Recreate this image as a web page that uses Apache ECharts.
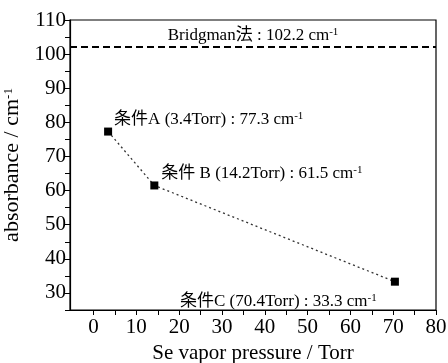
<!DOCTYPE html>
<html lang="ja">
<head>
    <meta charset="utf-8"/>
    <title>absorbance vs Se vapor pressure</title>
    <script src="https://cdn.jsdelivr.net/npm/echarts@6/dist/echarts.min.js"></script>
    <style>
        html, body { margin: 0; padding: 0; background: #fff; }
        #chart { width: 448px; height: 363px; }
    </style>
</head>
<body>
<div id="chart"></div>
<script type="text/javascript">
    // data
    var conditions = ['条件A', '条件 B', '条件C'];
    var pressure = [3.4, 14.2, 70.4];          // Torr
    var absorbance = [77.3, 61.5, 33.3];       // cm-1
    var bridgman = 102.2;                      // cm-1
    var xTicks = [0, 10, 20, 30, 40, 50, 60, 70, 80];
    var yTicks = [30, 40, 50, 60, 70, 80, 90, 100, 110];

    var serif = "'Liberation Serif', 'Times New Roman', 'Noto Sans CJK JP', serif";
    var supRich = {
        t: { fontFamily: serif, fontSize: 17, color: '#000' },
        s: { fontFamily: serif, fontSize: 11, color: '#000', verticalAlign: 'top', padding: [0, 0, 7, 0] }
    };

    // label offsets next to each point
    var labelOffsets = [[-3, -12], [-2, -12], [-224, 20]];

    var points = pressure.map(function (p, i) {
        return {
            value: [p, absorbance[i]],
            label: {
                show: true,
                position: 'right',
                offset: labelOffsets[i],
                formatter: '{t|' + conditions[i] + ' (' + p + 'Torr) : ' + absorbance[i] + ' cm}{s|-1}',
                rich: supRich
            }
        };
    });

    var chart = echarts.init(document.getElementById('chart'));

    var axisCommon = {
        axisLine: { show: true, onZero: false, lineStyle: { color: '#000', width: 1.2 } },
        axisTick: { show: true, inside: false, length: 5, lineStyle: { color: '#000' } },
        splitLine: { show: false },
        axisLabel: { color: '#000', fontFamily: serif, fontSize: 21 },
        nameTextStyle: { color: '#000', fontFamily: serif, fontSize: 21 }
    };

    var option = {
        animation: false,
        backgroundColor: '#fff',
        grid: {
            left: 70, right: 12, top: 20, bottom: 53,
            containLabel: false,
            outerBoundsMode: 'none',
            show: true, borderColor: '#000', borderWidth: 1.2
        },
        xAxis: Object.assign({}, axisCommon, {
            type: 'value',
            min: -5.5, max: 80,
            interval: 10,
            name: 'Se vapor pressure / Torr',
            nameLocation: 'middle',
            nameGap: 33,
            axisLabel: Object.assign({}, axisCommon.axisLabel, {
                margin: 7,
                customValues: xTicks
            }),
            axisTick: Object.assign({}, axisCommon.axisTick, {
                customValues: xTicks.concat([5, 15, 25, 35, 45, 55, 65, 75])
            }),
            minorTick: { show: false }
        }),
        yAxis: Object.assign({}, axisCommon, {
            type: 'value',
            min: 25, max: 110,
            interval: 5,
            name: 'absorbance / cm{s|-1}',
            nameLocation: 'middle',
            nameGap: 44,
            nameTextStyle: {
                color: '#000', fontFamily: serif, fontSize: 22,
                rich: {
                    s: { fontFamily: serif, fontSize: 13, color: '#000', verticalAlign: 'top', padding: [0, 0, 9, 0] }
                }
            },
            axisLabel: Object.assign({}, axisCommon.axisLabel, {
                margin: 4,
                customValues: yTicks
            }),
            minorTick: { show: false }
        }),
        series: [
            {
                type: 'line',
                data: points,
                symbol: 'rect',
                symbolSize: 8,
                itemStyle: { color: '#000' },
                lineStyle: { color: '#333', width: 1.3, type: [2, 3] },
                markLine: {
                    silent: true,
                    symbol: ['none', 'none'],
                    lineStyle: { color: '#000', width: 2, type: [7, 4] },
                    label: {
                        show: true,
                        position: 'insideMiddleTop',
                        distance: 2,
                        formatter: '{t|Bridgman法 : ' + bridgman + ' cm}{s|-1}',
                        rich: supRich
                    },
                    data: [{ yAxis: bridgman }]
                }
            }
        ]
    };

    chart.setOption(option);
</script>
</body>
</html>
